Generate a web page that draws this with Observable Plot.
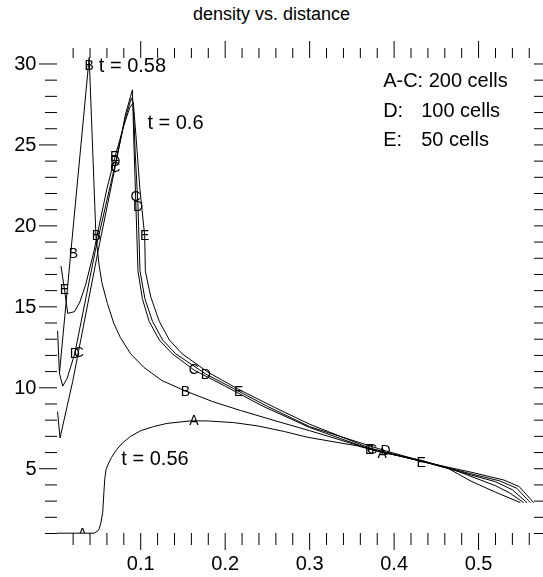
<!DOCTYPE html>
<html>
<head>
<meta charset="utf-8">
<script src="https://cdn.jsdelivr.net/npm/d3@7"></script>
<script src="https://cdn.jsdelivr.net/npm/@observablehq/plot@0.6"></script>
<style>
  html, body { margin: 0; padding: 0; background: #fff; }
  #title { width: 543px; height: 28px; line-height: 29px; text-align: center;
           font-family: "Liberation Sans", Arial, sans-serif; font-size: 18px; color: #000; }
  #chart svg { display: block; filter: grayscale(1); }
</style>
</head>
<body>
<div id="title">density vs. distance</div>
<div id="chart"></div>
<script>
// ---- data (x = distance, y = density) ----
const curveA = [[0.0016,1.02],[0.02,1.02],[0.045,1.02],[0.049,1.15],[0.051,1.3],[0.053,1.7],[0.055,2.3],[0.0565,3.6],[0.0575,4.4],[0.059,4.95],[0.062,5.35],[0.0655,5.7],[0.071,6.15],[0.0786,6.6],[0.088,7.0],[0.1,7.35],[0.115,7.6],[0.131,7.8],[0.16,7.96],[0.18,7.95],[0.21,7.85],[0.238,7.65],[0.27,7.3],[0.297,6.95],[0.33,6.65],[0.356,6.42],[0.387,6.0],[0.43,5.55],[0.462,5.08],[0.49,4.26],[0.52,3.55],[0.549,2.92]];
const curveB = [[0.0016,13.5],[0.0038,10.9],[0.039,30.4],[0.047,19.4],[0.0507,17.6],[0.054,16.5],[0.0606,15.2],[0.068,14.0],[0.076,13.1],[0.088,12.1],[0.104,11.25],[0.125,10.45],[0.153,9.8],[0.185,9.15],[0.218,8.6],[0.26,7.95],[0.3,7.35],[0.335,6.8],[0.372,6.2],[0.43,5.5],[0.47,4.95],[0.49,4.55],[0.52,3.95],[0.537,3.5],[0.553,2.92]];
const curveC = [[0.0016,8.5],[0.0045,6.9],[0.0195,10.4],[0.0266,12.3],[0.049,18.3],[0.0696,23.6],[0.082,26.9],[0.088,28.0],[0.0902,28.4],[0.092,25.0],[0.094,21.8],[0.0968,17.2],[0.102,15.5],[0.11,14.1],[0.122,12.95],[0.1375,12.1],[0.163,11.1],[0.2,10.1],[0.245,8.85],[0.3,7.55],[0.372,6.2],[0.43,5.5],[0.49,4.63],[0.52,4.2],[0.54,3.7],[0.557,2.92]];
const curveD = [[0.0038,10.9],[0.0077,10.1],[0.013,10.6],[0.0219,12.1],[0.0464,18.5],[0.0698,23.8],[0.082,26.7],[0.089,27.9],[0.0912,27.6],[0.0935,24.5],[0.0968,21.2],[0.0992,17.2],[0.105,15.5],[0.114,14.1],[0.126,12.95],[0.1414,12.1],[0.177,10.85],[0.21,9.95],[0.25,8.85],[0.3,7.6],[0.39,6.1],[0.43,5.52],[0.49,4.7],[0.525,4.25],[0.545,3.8],[0.561,2.92]];
const curveE = [[0.0057,17.5],[0.0097,16.1],[0.0136,14.6],[0.0215,14.7],[0.028,15.3],[0.035,16.4],[0.045,18.5],[0.0475,19.2],[0.06,22.3],[0.0693,24.2],[0.08,26.2],[0.087,27.3],[0.0912,27.6],[0.0945,25.5],[0.099,22.3],[0.1047,19.4],[0.1055,17.2],[0.112,15.6],[0.122,14.1],[0.134,12.95],[0.149,12.1],[0.18,10.95],[0.216,9.9],[0.258,8.8],[0.3,7.75],[0.37,6.3],[0.432,5.45],[0.49,4.8],[0.53,4.3],[0.548,3.9],[0.565,2.92]];

// letter markers [letter, x, y]
const letters = [
  ["A",0.031,1.0],["A",0.163,7.95],["A",0.386,5.95],
  ["B",0.0204,18.3],["B",0.039,29.9],["B",0.0475,19.4],["B",0.153,9.8],["B",0.371,6.2],
  ["C",0.0266,12.2],["C",0.0700,23.6],["C",0.094,21.8],["C",0.163,11.1],["C",0.374,6.2],
  ["D",0.0219,12.1],["D",0.0700,24.0],["D",0.0968,21.2],["D",0.177,10.85],["D",0.390,6.1],
  ["E",0.0097,16.1],["E",0.0693,24.3],["E",0.1047,19.4],["E",0.216,9.8],["E",0.432,5.4]
];

// annotations [text, x, y]
const notes = [
  ["t = 0.58",0.0504,29.9],
  ["t = 0.6",0.1079,26.4],
  ["t = 0.56",0.0771,5.6],
  ["A-C: 200 cells",0.387,29.0],
  ["D:",0.387,27.1],["100 cells",0.432,27.1],
  ["E:",0.387,25.35],["50 cells",0.432,25.35]
];

// ticks
const xMajor = [0.1,0.2,0.3,0.4,0.5];
const xMinor = [0.02,0.04,0.06,0.08,0.12,0.14,0.16,0.18,0.22,0.24,0.26,0.28,0.32,0.34,0.36,0.38,0.42,0.44,0.46,0.48,0.52,0.54,0.56];
const yMajor = [5,10,15,20,25,30];
const yMinor = [1,2,3,4,6,7,8,9,11,12,13,14,16,17,18,19,21,22,23,24,26,27,28,29];
const xDomain = [0.0015, 0.565];
const yDomain = [1.0, 30.4];

const curves = [curveA, curveB, curveC, curveD, curveE];
const blank = () => "";

const chart = Plot.plot({
  width: 543, height: 549,
  marginLeft: 57, marginRight: 10, marginTop: 29, marginBottom: 44,
  x: {domain: xDomain},
  y: {domain: yDomain},
  style: {fontFamily: '"Liberation Sans", Arial, sans-serif', background: "white", color: "black"},
  marks: [
    Plot.axisX(xMajor, {anchor: "bottom", tickSize: 17, tickPadding: 5, fontSize: 20, label: null}),
    Plot.axisX(xMinor, {anchor: "bottom", tickSize: 12, tickFormat: blank, label: null}),
    Plot.axisX(xMajor, {anchor: "top", tickSize: 17, tickFormat: blank, label: null}),
    Plot.axisX(xMinor, {anchor: "top", tickSize: 10, tickFormat: blank, label: null}),
    Plot.axisY(yMajor, {anchor: "left", tickSize: 18, tickPadding: 3, fontSize: 20, label: null}),
    Plot.axisY(yMinor, {anchor: "left", tickSize: 12, tickFormat: blank, label: null}),
    Plot.axisY(yMajor, {anchor: "right", tickSize: 17, tickFormat: blank, label: null}),
    Plot.axisY(yMinor, {anchor: "right", tickSize: 10, tickFormat: blank, label: null}),
    ...curves.map(c => Plot.line(c, {x: d => d[0], y: d => d[1], stroke: "black", strokeWidth: 1})),
    Plot.text(letters, {x: d => d[1], y: d => d[2], text: d => d[0], fontSize: 14, fill: "black", clip: true}),
    Plot.text(notes, {x: d => d[1], y: d => d[2], text: d => d[0], fontSize: 20, textAnchor: "start", fill: "black"})
  ]
});
document.getElementById("chart").appendChild(chart);
</script>
</body>
</html>
